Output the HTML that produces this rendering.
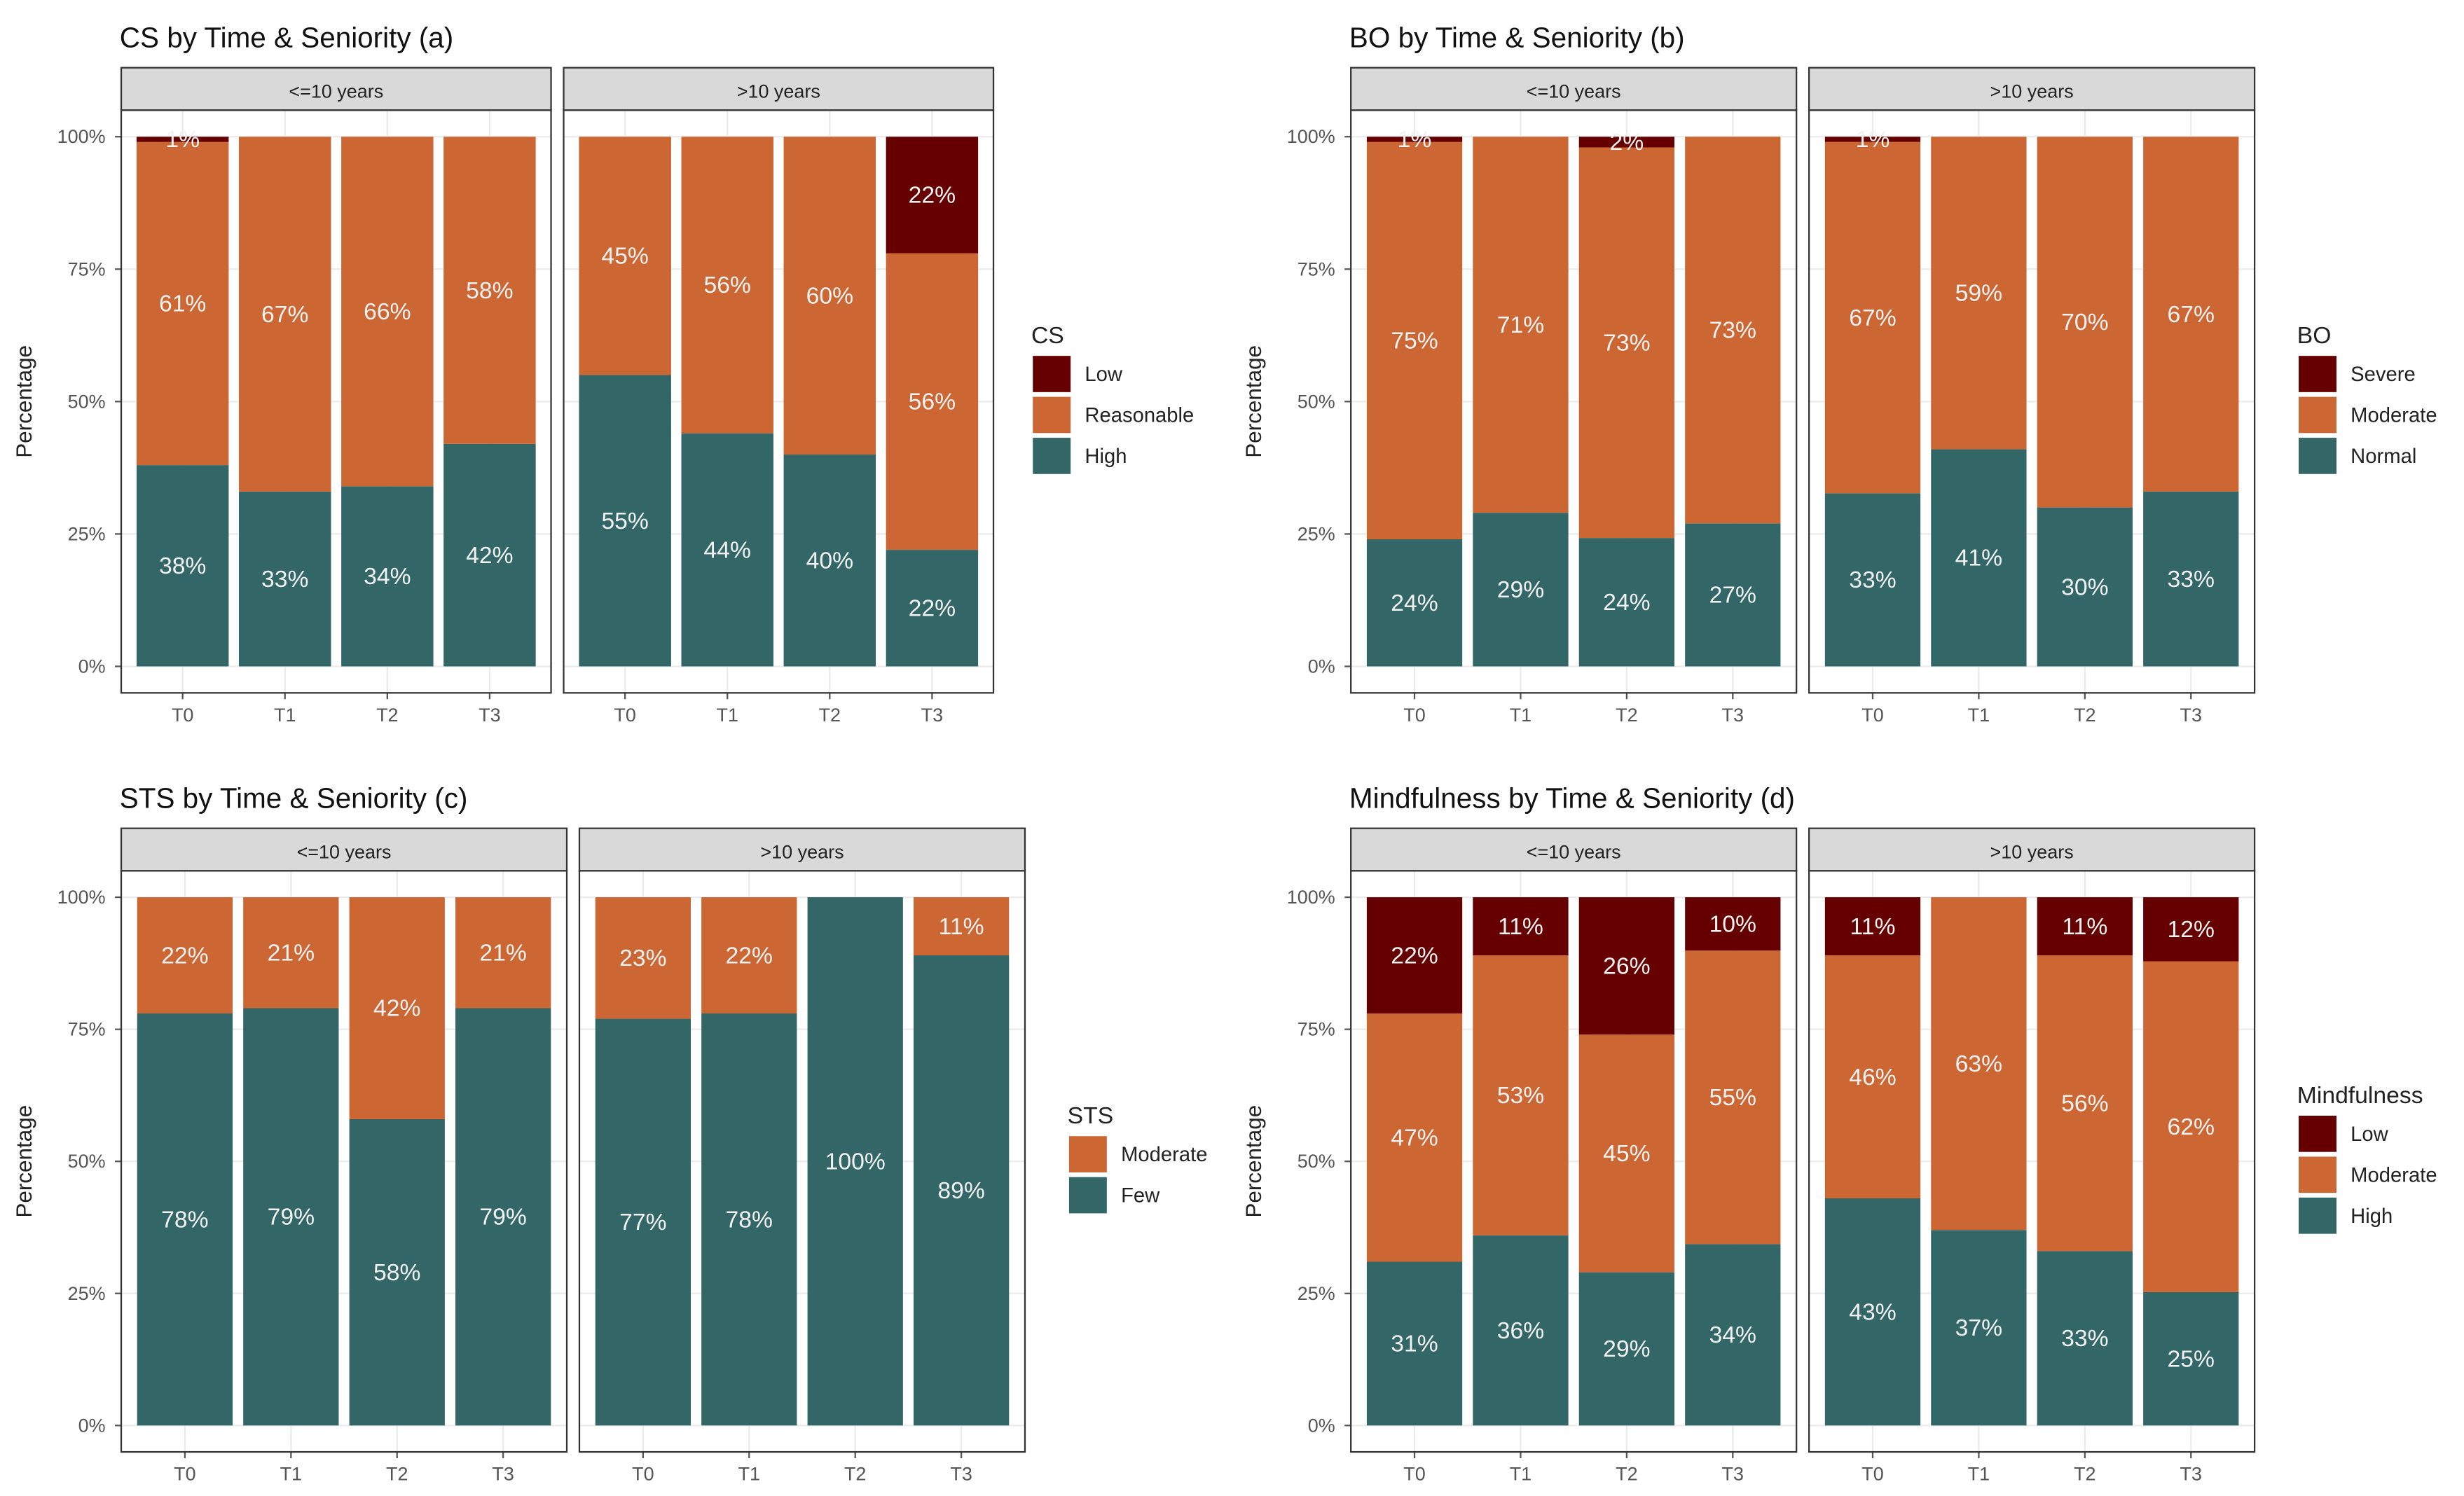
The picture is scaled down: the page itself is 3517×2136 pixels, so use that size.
<!DOCTYPE html>
<html><head><meta charset="utf-8"><style>
html,body{margin:0;padding:0;background:#fff;}
svg{display:block;font-family:"Liberation Sans",Arial,sans-serif;}
</style></head><body>
<svg id="c" width="3517" height="2136" viewBox="0 0 1565 950" preserveAspectRatio="none" xmlns="http://www.w3.org/2000/svg"></svg>
<script>
const times = ["T0","T1","T2","T3"];
const facets = ["<=10 years",">10 years"];
// Panel a: CS
const csHigh = [[38,33,34,42],[55,44,40,22]];
const csReas = [[61,67,66,58],[45,56,60,56]];
const csLow  = [[1,0,0,0],[0,0,0,22]];
// Panel b: BO
const boNormal = [[24,29,24,27],[33,41,30,33]];
const boModerate = [[75,71,73,73],[67,59,70,67]];
const boSevere = [[1,0,2,0],[1,0,0,0]];
// Panel c: STS
const stsFew = [[78,79,58,79],[77,78,100,89]];
const stsModerate = [[22,21,42,21],[23,22,0,11]];
// Panel d: Mindfulness
const mfHigh = [[31,36,29,34],[43,37,33,25]];
const mfMod = [[47,53,45,55],[46,63,56,62]];
const mfLow = [[22,11,26,10],[11,0,11,12]];
const yTicks = [0,25,50,75,100];

const C = {teal:"#336666", orange:"#CC6633", dark:"#660000"};
const svg = document.getElementById('c');
const NS = "http://www.w3.org/2000/svg";
function mk(tag, attrs, parent, name, inter){
  const e = document.createElementNS(NS, tag);
  for (const k in attrs) e.setAttribute(k, attrs[k]);
  
  
  (parent||svg).appendChild(e); return e;
}
function txt(s, attrs, parent, name){ const t = mk('text', attrs, parent, name, false); t.textContent = s; return t; }

function panel(cfg){
  const g = mk('g', {}, svg, cfg.id, false);
  txt(cfg.title, {x:cfg.x0-1, y:cfg.top-13, 'font-size':18, fill:'#111'}, g, 'panel-title');
  const stripH = 27, y0 = cfg.top + stripH, y1 = cfg.bottom;
  const unit = (y1 - y0) / 1.1;
  const yS = v => y1 - unit*0.05 - v/100*unit;
  txt('Percentage', {x:0,y:0,'font-size':14,fill:'#222','text-anchor':'middle',transform:`translate(${cfg.x0-57},${(y0+y1)/2}) rotate(-90)`}, g, 'y-axis-title');
  yTicks.forEach(t=>{
    txt(t+'%', {x:cfg.x0-10, y:yS(t)+4, 'font-size':12, fill:'#555','text-anchor':'end'}, g, 'y-tick-label');
    mk('line',{x1:cfg.x0-4,x2:cfg.x0,y1:yS(t),y2:yS(t),stroke:'#555','stroke-width':1}, g,'y-tick',false);
  });
  facets.forEach((f, fi)=>{
    const fx = cfg.x0 + fi*(cfg.fw + 8);
    const fg = mk('g', {}, g, 'facet-'+(fi?'over-10':'under-10'), false);
    mk('rect',{x:fx,y:cfg.top,width:cfg.fw,height:stripH,fill:'#D9D9D9',stroke:'#333','stroke-width':1}, fg,'facet-strip',false);
    txt(f,{x:fx+cfg.fw/2,y:cfg.top+19,'font-size':12,fill:'#222','text-anchor':'middle'}, fg,'strip-label');
    mk('rect',{x:fx,y:y0,width:cfg.fw,height:y1-y0,fill:'#fff',stroke:'none'}, fg,'plot-bg',false);
    const u = cfg.fw/4.2, bw = u*0.9;
    yTicks.forEach(t=>mk('line',{x1:fx,x2:fx+cfg.fw,y1:yS(t),y2:yS(t),stroke:'#EBEBEB','stroke-width':1},fg,'grid-line',false));
    times.forEach((tm, i)=>{
      const cx = fx + (0.6+i)*u;
      mk('line',{x1:cx,x2:cx,y1:y0,y2:y1,stroke:'#EBEBEB','stroke-width':1},fg,'grid-line',false);
      const vals = cfg.series.map(s=>s.data[fi][i]);
      const tot = vals.reduce((a,b)=>a+b,0);
      let cum = 0;
      cfg.series.forEach((s, si)=>{
        const v = vals[si]; if (!v) return;
        const a = cum/tot*100, b = (cum+v)/tot*100; cum += v;
        mk('rect',{x:cx-bw/2,y:yS(b),width:bw,height:yS(a)-yS(b),fill:s.color},fg,'bar-'+s.name.toLowerCase()+'-'+tm.toLowerCase(),true);
        txt(v+'%',{x:cx,y:yS((a+b)/2)+5,'font-size':15,fill:'#F2F2F2','text-anchor':'middle'},fg,'bar-value-label');
      });
      mk('line',{x1:cx,x2:cx,y1:y1,y2:y1+4,stroke:'#555'},fg,'x-tick',false);
      txt(tm,{x:cx,y:y1+18,'font-size':12,fill:'#555','text-anchor':'middle'},fg,'x-tick-label');
    });
    mk('rect',{x:fx,y:y0,width:cfg.fw,height:y1-y0,fill:'none',stroke:'#333','stroke-width':1},fg,'panel-border',false);
  });
  const lg = mk('g',{},g,'legend',false);
  const n = cfg.series.length;
  const ly = (y0+y1)/2 - (n*26+20)/2;
  txt(cfg.legendTitle,{x:cfg.lx,y:ly+12,'font-size':15,fill:'#222'},lg,'legend-title');
  cfg.series.slice().reverse().forEach((s,k)=>{
    const yy = ly+20+k*26;
    mk('rect',{x:cfg.lx+1,y:yy,width:24,height:23,fill:s.color},lg,'legend-key',false);
    txt(s.name,{x:cfg.lx+34,y:yy+16,'font-size':13,fill:'#222'},lg,'legend-entry');
  });
}
panel({id:'panel-a',title:'CS by Time & Seniority (a)',x0:77,fw:273,top:43,bottom:440,lx:655,legendTitle:'CS',
 series:[{name:'High',color:C.teal,data:csHigh},{name:'Reasonable',color:C.orange,data:csReas},{name:'Low',color:C.dark,data:csLow}]});
panel({id:'panel-b',title:'BO by Time & Seniority (b)',x0:858,fw:283,top:43,bottom:440,lx:1459,legendTitle:'BO',
 series:[{name:'Normal',color:C.teal,data:boNormal},{name:'Moderate',color:C.orange,data:boModerate},{name:'Severe',color:C.dark,data:boSevere}]});
panel({id:'panel-c',title:'STS by Time & Seniority (c)',x0:77,fw:283,top:526,bottom:922,lx:678,legendTitle:'STS',
 series:[{name:'Few',color:C.teal,data:stsFew},{name:'Moderate',color:C.orange,data:stsModerate}]});
panel({id:'panel-d',title:'Mindfulness by Time & Seniority (d)',x0:858,fw:283,top:526,bottom:922,lx:1459,legendTitle:'Mindfulness',
 series:[{name:'High',color:C.teal,data:mfHigh},{name:'Moderate',color:C.orange,data:mfMod},{name:'Low',color:C.dark,data:mfLow}]});
</script>
</body></html>
